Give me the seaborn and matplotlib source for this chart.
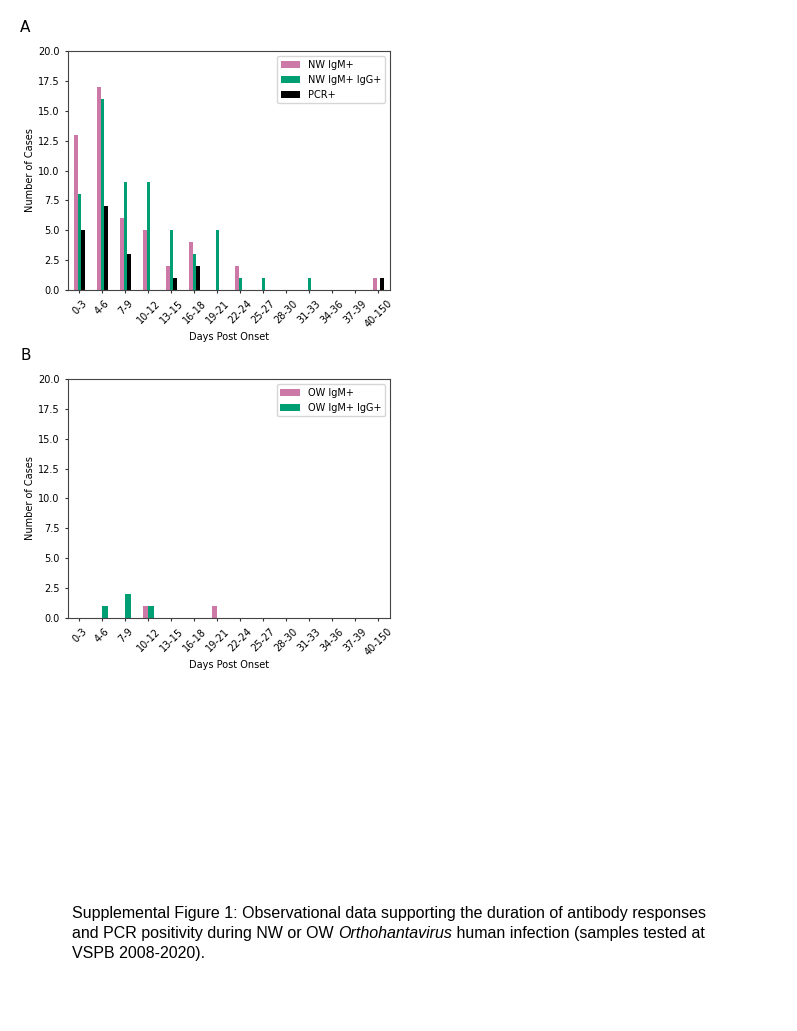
import pandas as pd
import matplotlib
matplotlib.use("Agg")
import matplotlib.pyplot as plt
import seaborn as sns

bins = ["0-3", "4-6", "7-9", "10-12", "13-15", "16-18", "19-21",
        "22-24", "25-27", "28-30", "31-33", "34-36", "37-39", "40-150"]

# panel A (New World)
nw_igm = [13, 17, 6, 5, 2, 4, 0, 2, 0, 0, 0, 0, 0, 1]
nw_igm_igg = [8, 16, 9, 9, 5, 3, 5, 1, 1, 0, 1, 0, 0, 0]
pcr = [5, 7, 3, 0, 1, 2, 0, 0, 0, 0, 0, 0, 0, 1]

# panel B (Old World)
ow_igm = [0, 0, 0, 1, 0, 0, 1, 0, 0, 0, 0, 0, 0, 0]
ow_igm_igg = [0, 1, 2, 1, 0, 0, 0, 0, 0, 0, 0, 0, 0, 0]

pink = "#CC79A7"
green = "#009E73"
black = "#000000"


def long_frame(series):
    rows = []
    for name, vals in series.items():
        for b, v in zip(bins, vals):
            rows.append({"bin": b, "count": v, "series": name})
    return pd.DataFrame(rows)


def draw_panel(ax, series, colors):
    df = long_frame(series)
    sns.barplot(data=df, x="bin", y="count", hue="series", ax=ax,
                palette=colors, width=0.5, saturation=1, linewidth=0,
                order=bins, hue_order=list(series.keys()))
    ax.set_ylim(0, 20)
    ax.set_yticks([0, 2.5, 5, 7.5, 10, 12.5, 15, 17.5, 20])
    ax.set_yticklabels(["0.0", "2.5", "5.0", "7.5", "10.0", "12.5", "15.0", "17.5", "20.0"])
    ax.set_xlim(-0.5, len(bins) - 0.5)
    ax.tick_params(labelsize=7, length=2.5, color="#333333")
    plt.setp(ax.get_xticklabels(), rotation=45)
    ax.set_xlabel("Days Post Onset", fontsize=7, labelpad=2)
    ax.set_ylabel("Number of Cases", fontsize=7, labelpad=2)
    ax.legend(loc="upper right", fontsize=7, title=None)
    for s in ax.spines.values():
        s.set_linewidth(0.8)
        s.set_color("#444444")


fig = plt.figure(figsize=(7.97, 10.31), dpi=100)

ax1 = fig.add_axes([0.0853, 0.7187, 0.404, 0.2318])
draw_panel(ax1, {"NW IgM+": nw_igm, "NW IgM+ IgG+": nw_igm_igg, "PCR+": pcr},
           [pink, green, black])

ax2 = fig.add_axes([0.0853, 0.4006, 0.404, 0.2318])
draw_panel(ax2, {"OW IgM+": ow_igm, "OW IgM+ IgG+": ow_igm_igg},
           [pink, green])

fig.text(20 / 797, 1 - 28 / 1031, "A", fontsize=11, va="center", ha="left")
fig.text(20 / 797, 1 - 355 / 1031, "B", fontsize=11, va="center", ha="left")

# caption, with the genus name in italics
cap_font = dict(family="Liberation Sans", fontsize=11.5)
x0 = 72 / 797
fig.text(x0, 1 - 918 / 1031,
         "Supplemental Figure 1: Observational data supporting the duration of antibody responses",
         **cap_font)
fig.canvas.draw()
r = fig.canvas.get_renderer()
t1 = fig.text(x0, 1 - 938 / 1031, "and PCR positivity during NW or OW ", **cap_font)
e1 = t1.get_window_extent(r)
t2 = fig.text(e1.x1 / fig.bbox.width, 1 - 938 / 1031, "Orthohantavirus",
              style="italic", **cap_font)
e2 = t2.get_window_extent(r)
fig.text(e2.x1 / fig.bbox.width, 1 - 938 / 1031, " human infection (samples tested at",
         **cap_font)
fig.text(x0, 1 - 958 / 1031, "VSPB 2008-2020).", **cap_font)

plt.savefig("out.png", dpi=100)
